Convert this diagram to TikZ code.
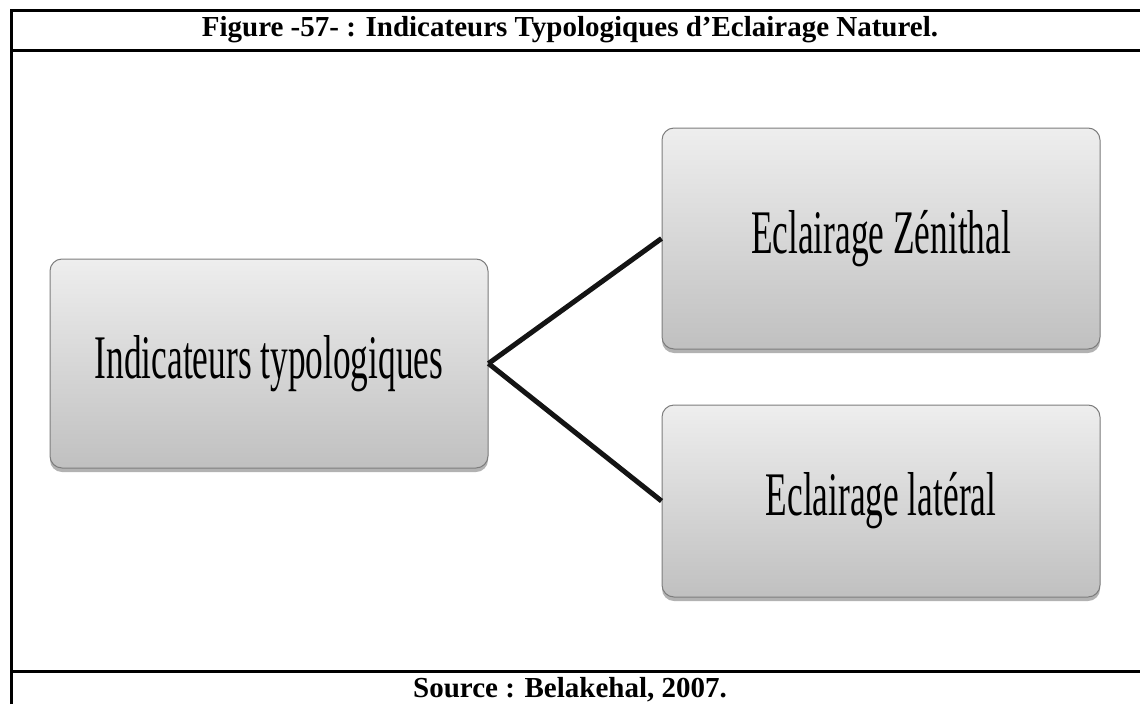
\documentclass[tikz,border=0pt]{standalone}
\usepackage{fontspec}
\setmainfont{Liberation Serif}
\newfontfamily\boxfont[FakeStretch=0.57]{Liberation Serif}
\usetikzlibrary{shadows}
\definecolor{boxtop}{RGB}{238,238,238}
\definecolor{boxbot}{RGB}{192,192,192}
\definecolor{boxrim}{RGB}{125,125,125}

\begin{document}
\begin{tikzpicture}[x=1pt,y=-1pt,
    frame/.style={line width=3pt},
    captxt/.style={font=\bfseries\fontsize{29}{31}\selectfont},
    box/.style={draw=boxrim,line width=1pt,rounded corners=12pt,top color=boxtop,bottom color=boxbot,
      minimum width=438pt,font=\boxfont\fontsize{62}{64}\selectfont,
      drop shadow={shadow xshift=0pt,shadow yshift=-4pt,opacity=0.5,fill=black!60}},
    link/.style={line width=5pt,black!92}]
  \useasboundingbox (0,0) rectangle (1140,704);
  % table frame
  \draw[frame] (11,704) -- (11,10) -- (1140,10);
  \draw[frame] (11,50) -- (1140,50);
  \draw[frame] (11,671) -- (1140,671);
  \node[captxt] (title) at (570,30) {Figure -57- : Indicateurs Typologiques d’Eclairage Naturel.};
  \node[captxt] (src) at (570,690) {Source : Belakehal, 2007.};
  % boxes
  \node[box,minimum height=209pt] (root) at (269,363.5) {Indicateurs typologiques};
  \node[box,minimum height=221pt] (zen) at (881,238.5) {Eclairage Zénithal};
  \node[box,minimum height=192pt] (lat) at (881,501) {Eclairage latéral};
  \draw[link] (root.east) -- (zen.west);
  \draw[link] (root.east) -- (lat.west);
\end{tikzpicture}
\end{document}
